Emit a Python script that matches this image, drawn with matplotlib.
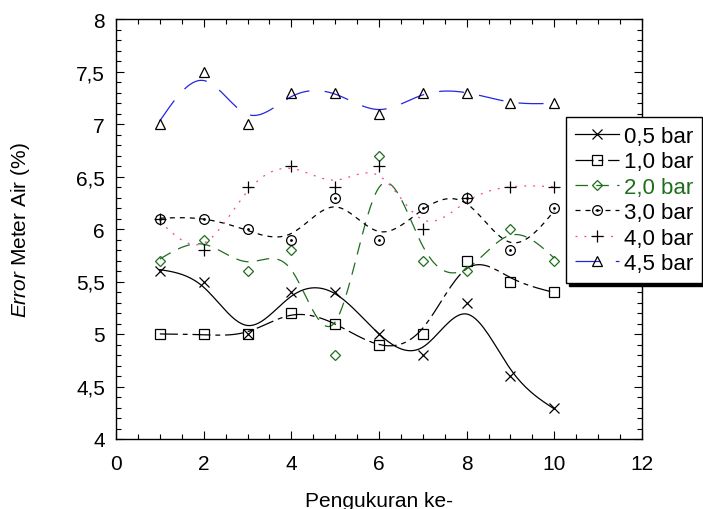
import numpy as np
import matplotlib
matplotlib.use("Agg")
import matplotlib.pyplot as plt
from matplotlib.lines import Line2D
from matplotlib.legend_handler import HandlerTuple
from matplotlib.ticker import MultipleLocator

plt.rcParams['font.family'] = ['Liberation Sans', 'DejaVu Sans']
plt.rcParams['mathtext.fontset'] = 'custom'
plt.rcParams['mathtext.rm'] = 'Liberation Sans'
plt.rcParams['mathtext.it'] = 'Liberation Sans:italic'
plt.rcParams['lines.scale_dashes'] = False

# data
pengukuran = [1, 2, 3, 4, 5, 6, 7, 8, 9, 10]
bar_05 = [5.6, 5.5, 5.0, 5.4, 5.4, 5.0, 4.8, 5.3, 4.6, 4.3]
bar_10 = [5.0, 5.0, 5.0, 5.2, 5.1, 4.9, 5.0, 5.7, 5.5, 5.4]
bar_20 = [5.7, 5.9, 5.6, 5.8, 4.8, 6.7, 5.7, 5.6, 6.0, 5.7]
bar_30 = [6.1, 6.1, 6.0, 5.9, 6.3, 5.9, 6.2, 6.3, 5.8, 6.2]
bar_40 = [6.1, 5.8, 6.4, 6.6, 6.4, 6.6, 6.0, 6.3, 6.4, 6.4]
bar_45 = [7.0, 7.5, 7.0, 7.3, 7.3, 7.1, 7.3, 7.3, 7.2, 7.2]
labels = ["0,5 bar", "1,0 bar", "2,0 bar", "3,0 bar", "4,0 bar", "4,5 bar"]

x_ticks = [0, 2, 4, 6, 8, 10, 12]
y_ticks = [4, 4.5, 5, 5.5, 6, 6.5, 7, 7.5, 8]
y_ticklabels = ["4", "4,5", "5", "5,5", "6", "6,5", "7", "7,5", "8"]


def smooth(x, y, lam=0.022, step=0.05):
    # discrete smoothing spline (Whittaker) on a fine grid
    x = np.asarray(x, float)
    y = np.asarray(y, float)
    xs = np.arange(x[0], x[-1] + step / 2, step)
    n = len(xs)
    idx = np.round((x - x[0]) / step).astype(int)
    w = np.zeros(n)
    w[idx] = 1.0
    b = np.zeros(n)
    b[idx] = y
    D = np.diff(np.eye(n), 2, axis=0)
    A = np.diag(w) + lam / step ** 3 * D.T @ D
    return xs, np.linalg.solve(A, b)


green = '#1e6e1e'
pink = '#ff3fa0'
blue = '#2626e0'

styles = [
    dict(color='k', ls='-', marker='x', mc='k', ms=7.5),
    dict(color='k', ls=(0, (13, 3.5, 3.5, 3.5)), marker='s', mc='k', ms=7.5),
    dict(color=green, ls=(0, (9, 6)), marker='D', mc=green, ms=5),
    dict(color='k', ls=(0, (3.6, 3.6)), marker='o', mc='k', ms=7),
    dict(color=pink, ls=(0, (1.4, 5)), marker='+', mc='k', ms=9),
    dict(color=blue, ls=(0, (18, 11)), marker='^', mc='k', ms=7.5),
]
series = [bar_05, bar_10, bar_20, bar_30, bar_40, bar_45]

fig = plt.figure(figsize=(7.03, 5.10), dpi=100)
ax = fig.add_axes([116 / 703, 1 - 440 / 510, 526 / 703, 420 / 510])

handles = []
for vals, st in zip(series, styles):
    xs, ys = smooth(pengukuran, vals)
    ax.plot(xs, ys, color=st['color'], ls=st['ls'], lw=0.9, zorder=2)
    ax.plot(pengukuran, vals, ls='none', marker=st['marker'], ms=st['ms'],
            mec=st['mc'], mfc='none', mew=0.9, zorder=3)
    h = Line2D([], [], color=st['color'], ls=st['ls'], lw=0.9,
               marker=st['marker'], ms=st['ms'], mec=st['mc'], mfc='none',
               mew=0.9)
    if st['marker'] == 'o':
        ax.plot(pengukuran, vals, ls='none', marker='.', ms=2, color='k',
                zorder=3)
        h = (h, Line2D([], [], ls='none', marker='.', ms=2, color='k'))
    handles.append(h)

ax.set_xlim(0, 12)
ax.set_ylim(4, 8)
ax.set_xticks(x_ticks)
ax.set_yticks(y_ticks)
ax.set_yticklabels(y_ticklabels)
ax.xaxis.set_minor_locator(MultipleLocator(0.5))
ax.yaxis.set_minor_locator(MultipleLocator(0.1))
ax.tick_params(which='both', direction='in', top=True, right=True,
               width=0.8, labelsize=15)
ax.tick_params(which='major', length=6)
ax.tick_params(which='minor', length=3.5)
ax.tick_params(axis='y', pad=8)
ax.tick_params(axis='x', pad=11)
for sp in ax.spines.values():
    sp.set_linewidth(1.0)

ax.set_xlabel("Pengukuran ke-", fontsize=15, labelpad=13)
ax.set_ylabel(r"$\it{Error}$ Meter Air (%)", fontsize=15)
ax.yaxis.set_label_coords(-0.16, 0.5)

leg = ax.legend(handles, labels, loc='upper left',
                bbox_to_anchor=(566 / 703, 1 - 118 / 510),
                bbox_transform=fig.transFigure, borderaxespad=0,
                fontsize=16, frameon=True, fancybox=False, framealpha=1,
                edgecolor='k', shadow={'color': 'k', 'alpha': 1},
                handlelength=2.0, handletextpad=0.2, labelspacing=0.2,
                borderpad=0.4, handler_map={tuple: HandlerTuple(ndivide=1)})
leg.get_frame().set_linewidth(1.0)
leg.get_texts()[2].set_color(green)

fig.savefig("out.png", dpi=100)
